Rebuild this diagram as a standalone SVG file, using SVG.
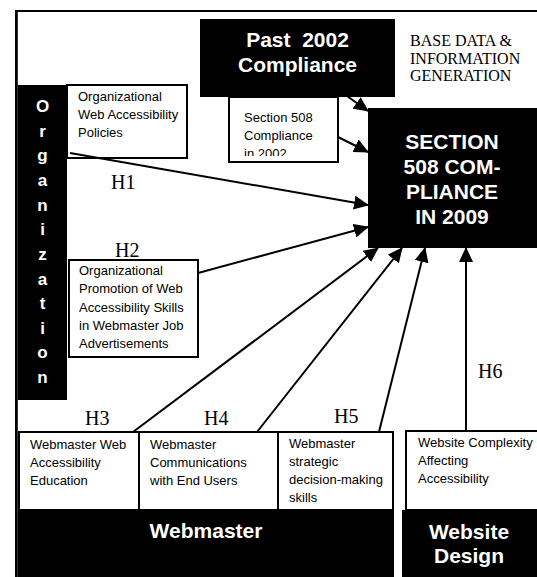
<svg xmlns="http://www.w3.org/2000/svg" width="537" height="577" viewBox="0 0 537 577">
<style>
.blk{fill:#000}
.box{fill:#fff;stroke:#000;stroke-width:2}
.t{font-family:"Liberation Sans",Arial,sans-serif;font-size:13px;fill:#000}
.bw{font-family:"Liberation Sans",Arial,sans-serif;font-weight:bold;fill:#fff}
.h{font-family:"Liberation Serif","Times New Roman",serif;font-size:20px;fill:#000}
.c{stroke:#000;stroke-width:2;fill:none;marker-end:url(#ah)}
</style>
<defs>
<marker id="ah" viewBox="0 0 15 14" refX="14" refY="7" markerWidth="15" markerHeight="14" markerUnits="userSpaceOnUse" orient="auto">
<path d="M0,0 L15,7 L0,14 z" fill="#000"/>
</marker>
<clipPath id="clip508"><rect x="230" y="98" width="107" height="58"/></clipPath>
</defs>
<g id="frame">
<path d="M16,577 V11 H537" fill="none" stroke="#000" stroke-width="2"/>
<line x1="17.5" y1="11" x2="17.5" y2="577" stroke="#000" stroke-width="0.8"/>
</g>
<g id="base-data">
<text class="h" style="font-size:16px" x="410" y="46">BASE DATA &amp;</text>
<text class="h" style="font-size:16px" x="410" y="63.5">INFORMATION</text>
<text class="h" style="font-size:16px" x="410" y="81">GENERATION</text>
</g>
<g id="past-2002">
<rect class="blk" x="200" y="19" width="195" height="78"/>
<text class="bw" font-size="21" x="297.5" y="47" text-anchor="middle" xml:space="preserve">Past  2002</text>
<text class="bw" font-size="21" x="297.5" y="72" text-anchor="middle">Compliance</text>
</g>
<g id="section-508-2002">
<rect class="box" x="229" y="97" width="109" height="65"/>
<g clip-path="url(#clip508)">
<text class="t" x="244" y="122">Section 508</text>
<text class="t" x="244" y="140">Compliance</text>
<text class="t" x="244" y="158">in 2002</text>
</g>
</g>
<g id="section-508-2009">
<rect class="blk" x="368" y="108" width="169" height="140"/>
<text class="bw" font-size="21" x="452" y="149" text-anchor="middle">SECTION</text>
<text class="bw" font-size="21" x="452" y="174" text-anchor="middle">508 COM-</text>
<text class="bw" font-size="21" x="452" y="199" text-anchor="middle">PLIANCE</text>
<text class="bw" font-size="21" x="452" y="224" text-anchor="middle">IN 2009</text>
</g>
<g id="organization">
<rect class="blk" x="18" y="85" width="49" height="315"/>
<g class="bw" font-size="17" text-anchor="middle">
<text x="42.5" y="112">O</text>
<text x="42.5" y="136.6">r</text>
<text x="42.5" y="161">g</text>
<text x="42.5" y="186">a</text>
<text x="42.5" y="210.5">n</text>
<text x="42.5" y="235">i</text>
<text x="42.5" y="260">z</text>
<text x="42.5" y="284.5">a</text>
<text x="42.5" y="309">t</text>
<text x="42.5" y="334">i</text>
<text x="42.5" y="358">o</text>
<text x="42.5" y="383">n</text>
</g>
</g>
<g id="org-policies">
<rect class="box" x="67" y="85" width="120" height="73"/>
<text class="t" x="78" y="101">Organizational</text>
<text class="t" x="78" y="119">Web Accessibility</text>
<text class="t" x="78" y="137">Policies</text>
</g>
<g id="org-promotion">
<rect class="box" x="69" y="260" width="129" height="97"/>
<text class="t" x="79" y="275">Organizational</text>
<text class="t" x="79" y="293.3">Promotion of Web</text>
<text class="t" x="79" y="311.6">Accessibility Skills</text>
<text class="t" x="79" y="330">in Webmaster Job</text>
<text class="t" x="79" y="348.3">Advertisements</text>
</g>
<g id="webmaster">
<rect class="blk" x="18" y="510" width="376" height="67"/>
<text class="bw" font-size="21" x="206" y="538" text-anchor="middle">Webmaster</text>
</g>
<g id="wm-education">
<rect class="box" x="19" y="432" width="120" height="78"/>
<text class="t" x="30" y="449">Webmaster Web</text>
<text class="t" x="30" y="467">Accessibility</text>
<text class="t" x="30" y="485">Education</text>
</g>
<g id="wm-communications">
<rect class="box" x="139" y="432" width="139" height="78"/>
<text class="t" x="150" y="449">Webmaster</text>
<text class="t" x="150" y="467">Communications</text>
<text class="t" x="150" y="485">with End Users</text>
</g>
<g id="wm-strategic">
<rect class="box" x="278" y="432" width="115" height="78"/>
<text class="t" x="289" y="448">Webmaster</text>
<text class="t" x="289" y="466">strategic</text>
<text class="t" x="289" y="484">decision-making</text>
<text class="t" x="289" y="502">skills</text>
</g>
<g id="website-design">
<rect class="blk" x="402" y="510" width="135" height="67"/>
<text class="bw" font-size="21" x="469" y="539" text-anchor="middle">Website</text>
<text class="bw" font-size="21" x="469" y="563" text-anchor="middle">Design</text>
</g>
<g id="website-complexity">
<rect class="box" x="406" y="431" width="132" height="79"/>
<text class="t" x="418" y="447">Website Complexity</text>
<text class="t" x="418" y="465">Affecting</text>
<text class="t" x="418" y="483">Accessibility</text>
</g>
<g id="connectors">
<line class="c" x1="347" y1="96" x2="368" y2="111"/>
<line class="c" x1="338" y1="137" x2="368" y2="152"/>
<line class="c" x1="70" y1="153" x2="368" y2="205"/>
<line class="c" x1="198" y1="273" x2="368" y2="227"/>
<line class="c" x1="133" y1="432" x2="378" y2="248"/>
<line class="c" x1="257" y1="432" x2="402" y2="248"/>
<line class="c" x1="379" y1="432" x2="425" y2="248"/>
<line class="c" x1="466" y1="431" x2="466" y2="248"/>
</g>
<g id="labels">
<text class="h" x="111" y="189">H1</text>
<text class="h" x="115" y="257">H2</text>
<text class="h" x="85" y="425">H3</text>
<text class="h" x="204" y="425">H4</text>
<text class="h" x="334" y="423">H5</text>
<text class="h" x="478" y="378">H6</text>
</g>
</svg>
